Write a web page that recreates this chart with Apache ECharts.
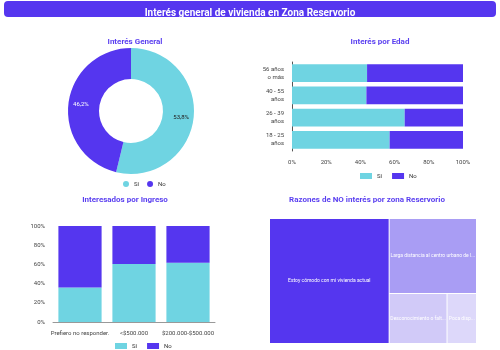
<!DOCTYPE html>
<html>
<head>
<meta charset="utf-8">
<script src="https://cdn.jsdelivr.net/npm/echarts@6/dist/echarts.min.js"></script>
<style>
  html, body { margin: 0; padding: 0; background: #fff; }
  #chart { width: 500px; height: 350px; }
</style>
</head>
<body>
<div id="chart"></div>
<script>
// Interés General
var pieNames = ['Sí', 'No'];
var pieValues = [53.8, 46.2];

// Interés por Edad
var edadCats = ['18 - 25\naños', '26 - 39\naños', '40 - 55\naños', '56 años\no más'];
var edadSi = [57.1, 65.9, 43.5, 43.9];
var edadNo = [42.9, 34.1, 56.5, 56.1];

// Interesados por Ingreso
var ingresoCats = ['Prefiero no responder.', '<$500.000', '$200.000-$500.000'];
var ingresoSi = [35.9, 60.3, 61.7];
var ingresoNo = [64.1, 39.7, 38.3];

// Razones de NO interés
var razones = ['Estoy cómodo con mi vivienda actual', 'Larga distancia al centro urbano de la ciudad',
  'Desconocimiento o falta de información', 'Poca disponibilidad de servicios'];
var razonesVal = [57.8, 25.3, 11.2, 5.7];
var razonesColor = ['#5536ef', '#a99df4', '#d1caf8', '#ddd8fa'];

var cyan = '#6fd4e2';
var purple = '#5536ef';
var font = 'Roboto';

var chart = echarts.init(document.getElementById('chart'));

function pct(v) {
  return v.toFixed(1).replace('.', ',') + '%';
}

var titleStyle = { color: '#5a3ff0', fontSize: 8, fontWeight: 'bold', fontFamily: font };
var axisTxt = { fontSize: 6, color: '#444', fontFamily: font };

chart.setOption({
  animation: false,
  textStyle: { fontFamily: font },
  graphic: [{
    type: 'rect',
    shape: { x: 4, y: 1, width: 492, height: 16, r: 4 },
    style: { fill: '#5536ef' },
    z: 0
  }],
  title: [
    { text: 'Interés general de vivienda en Zona Reservorio', left: 'center', top: 3,
      textStyle: { color: '#fff', fontSize: 10, fontWeight: 'bold', fontFamily: font } },
    { text: 'Interés General', left: 130, textAlign: 'center', top: 33, textStyle: titleStyle },
    { text: 'Interés por Edad', left: 375, textAlign: 'center', top: 33, textStyle: titleStyle },
    { text: 'Interesados por Ingreso', left: 120, textAlign: 'center', top: 191, textStyle: titleStyle },
    { text: 'Razones de NO interés por zona Reservorio', left: 362, textAlign: 'center', top: 191, textStyle: titleStyle }
  ],
  legend: [
    { data: pieNames, left: 118, top: 176, icon: 'circle', itemWidth: 6, itemHeight: 6, itemGap: 8,
      textStyle: { fontSize: 6, color: '#333' } },
    { data: pieNames, left: 355, top: 168, icon: 'rect', itemWidth: 12, itemHeight: 6, itemGap: 10,
      textStyle: { fontSize: 6, color: '#333' } },
    { data: pieNames, left: 110, top: 338, icon: 'rect', itemWidth: 12, itemHeight: 6, itemGap: 10,
      textStyle: { fontSize: 6, color: '#333' } }
  ],
  grid: [
    { left: 292, top: 62, width: 171, height: 89 },
    { left: 53, top: 226, width: 162, height: 96 }
  ],
  xAxis: [
    { gridIndex: 0, type: 'value', min: 0, max: 100, interval: 20,
      axisLabel: Object.assign({ formatter: '{value}%' }, axisTxt),
      axisLine: { show: false }, axisTick: { show: false }, splitLine: { show: false } },
    { gridIndex: 1, type: 'category', data: ingresoCats,
      axisLabel: Object.assign({ interval: 0 }, axisTxt), axisTick: { show: false },
      axisLine: { lineStyle: { color: '#999' } } }
  ],
  yAxis: [
    { gridIndex: 0, type: 'category', data: edadCats,
      axisLabel: Object.assign({ lineHeight: 8 }, axisTxt), axisTick: { show: false },
      axisLine: { show: true, lineStyle: { color: '#555' } } },
    { gridIndex: 1, type: 'value', min: 0, max: 100, interval: 20,
      axisLabel: Object.assign({ formatter: '{value}%' }, axisTxt),
      axisLine: { show: false }, axisTick: { show: false }, splitLine: { show: false } }
  ],
  series: [
    { type: 'pie', name: 'Interés General', center: [131, 111], radius: [32, 63],
      startAngle: 90, clockwise: true,
      data: pieNames.map(function (n, i) {
        return { name: n, value: pieValues[i], itemStyle: { color: i === 0 ? cyan : purple },
          label: { color: i === 0 ? '#222' : '#fff' } };
      }),
      label: { position: 'inside', fontSize: 6,
        formatter: function (p) { return pct(p.percent); } },
      labelLine: { show: false }
    },
    { type: 'bar', name: 'Sí', stack: 'e', xAxisIndex: 0, yAxisIndex: 0, data: edadSi,
      barWidth: '80%', itemStyle: { color: cyan } },
    { type: 'bar', name: 'No', stack: 'e', xAxisIndex: 0, yAxisIndex: 0, data: edadNo,
      barWidth: '80%', itemStyle: { color: purple } },
    { type: 'bar', name: 'Sí', stack: 'i', xAxisIndex: 1, yAxisIndex: 1, data: ingresoSi,
      barWidth: '80%', itemStyle: { color: cyan } },
    { type: 'bar', name: 'No', stack: 'i', xAxisIndex: 1, yAxisIndex: 1, data: ingresoNo,
      barWidth: '80%', itemStyle: { color: purple } },
    { type: 'treemap', left: 270, top: 219, width: 206, height: 124,
      roam: false, nodeClick: false, breadcrumb: { show: false },
      itemStyle: { borderColor: '#fff', borderWidth: 0, gapWidth: 1 },
      levels: [{ itemStyle: { borderWidth: 0, gapWidth: 1 } }],
      label: { show: true, position: 'inside', fontSize: 5, color: '#fff', padding: 0,
        overflow: 'truncate', ellipsis: '...' },
      data: razones.map(function (n, i) {
        return { name: n, value: razonesVal[i], itemStyle: { color: razonesColor[i] } };
      })
    }
  ]
});
</script>
</body>
</html>
